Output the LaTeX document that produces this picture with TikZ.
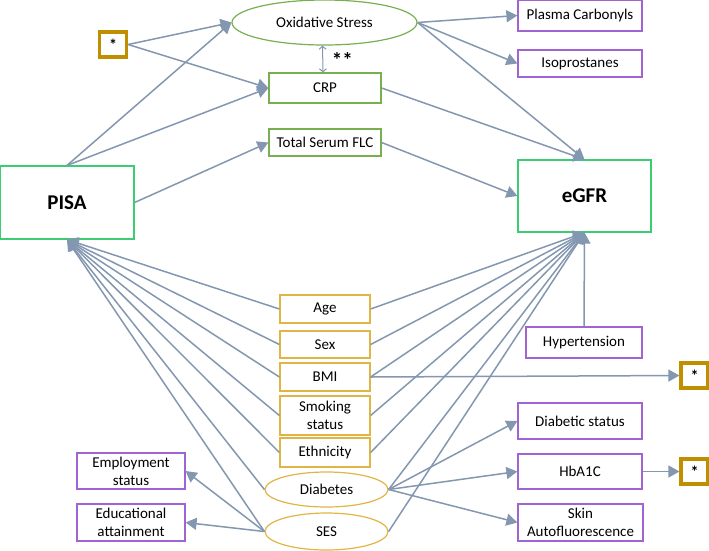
\documentclass[tikz,border=0pt]{standalone}
\usepackage{fontspec}
\setmainfont{Carlito}
\usepackage{tikz}
\usetikzlibrary{arrows.meta,shapes.geometric}
\definecolor{outc}{RGB}{60,205,115}
\definecolor{latc}{RGB}{120,175,80}
\definecolor{obsc}{RGB}{160,100,210}
\definecolor{covc}{RGB}{225,180,70}
\definecolor{starc}{RGB}{191,143,0}
\definecolor{linkc}{RGB}{132,151,176}

\begin{document}
\begin{tikzpicture}[x=1pt, y=-1pt, font=\fontsize{15}{18}\selectfont, line width=1.2pt,
    main/.style = {draw=outc, rectangle, inner sep=0pt, minimum width=134pt, minimum height=73pt, font=\fontsize{21}{24}\selectfont\bfseries},
    lat/.style = {draw=latc, rectangle, inner sep=0pt, minimum width=112pt},
    latell/.style = {draw=latc, ellipse, inner sep=0pt, minimum width=185pt, minimum height=45pt},
    obs/.style = {draw=obsc, rectangle, inner sep=0pt, align=center, minimum width=124pt},
    cov/.style = {draw=covc, rectangle, inner sep=0pt, align=center, minimum width=90pt},
    covell/.style = {draw=covc, ellipse, inner sep=0pt, minimum width=123pt},
    starbox/.style = {draw=starc, line width=3.2pt, rectangle, inner sep=0pt, minimum width=27pt, minimum height=25pt, font=\fontsize{16}{18}\selectfont\bfseries},
    link/.style = {draw=linkc, line width=1.5pt, -{Triangle[length=11pt,width=12pt]}}]
                \useasboundingbox (0,0) rectangle (709,550);
                \node[main] (pisa) at (67,202.5) {PISA};
                \node[main, minimum width=133pt, minimum height=72pt] (egfr) at (584.5,196) {eGFR};
                \node[latell] (ox) at (324.5,22.5) {Oxidative Stress};
                \node[lat, minimum height=30pt] (crp) at (325,88) {CRP};
                \node[lat, minimum height=27pt] (flc) at (325,142.5) {Total Serum FLC};
                \node[starbox] (s0) at (113,44.5) {*};
                \node[obs, minimum height=31pt] (pc) at (580,15.5) {Plasma Carbonyls};
                \node[obs, minimum height=27pt] (iso) at (580,63.5) {Isoprostanes};
                \node[cov, minimum height=28pt] (age) at (325,309) {Age};
                \node[cov, minimum height=27pt] (sex) at (325,344.5) {Sex};
                \node[cov, minimum height=28pt] (bmi) at (325,377) {BMI};
                \node[cov, minimum height=39pt] (smk) at (325,415.5) {Smoking\\status};
                \node[cov, minimum height=29pt] (eth) at (325,452.5) {Ethnicity};
                \node[covell, minimum height=35pt] (dia) at (326.5,489.5) {Diabetes};
                \node[covell, minimum height=37pt] (ses) at (326.5,531.5) {SES};
                \node[obs, minimum width=108pt, minimum height=36pt] (emp) at (131,471) {Employment\\status};
                \node[obs, minimum width=108pt, minimum height=37pt] (edu) at (131,522.5) {Educational\\attainment};
                \node[obs, minimum width=116pt, minimum height=31pt] (hyp) at (584,342.5) {Hypertension};
                \node[obs, minimum height=36pt] (dst) at (580,421) {Diabetic status};
                \node[obs, minimum height=35pt] (hba) at (580,471.5) {HbA1C};
                \node[obs, minimum width=125pt, minimum height=37pt] (skin) at (580.5,522.5) {Skin\\Autofluorescence};
                \node[starbox] (s1) at (694.5,375.5) {*};
                \node[starbox] (s2) at (694.5,471.5) {*};
                \node[anchor=west, font=\fontsize{21}{22}\selectfont\bfseries] (sig) at (328,60) {**};
                \draw[link] (pisa.north) -- (ox.west);
                \draw[link] (pisa.north) -- (crp.west);
                \draw[link] (s0.east) -- (ox.west);
                \draw[link] (s0.east) -- (crp.west);
                \draw[link] (pisa.east) -- (flc.west);
                \draw[draw=linkc, line width=1pt, {Straight Barb[length=3pt,width=7pt]}-{Straight Barb[length=3pt,width=7pt]}] ([xshift=-2pt]ox.south) -- ([xshift=-2pt]crp.north);
                \draw[link] (ox.east) -- (pc.west);
                \draw[link] (ox.east) -- (iso.west);
                \draw[link] (ox.east) -- (egfr.north);
                \draw[link] (crp.east) -- (egfr.north);
                \draw[link] (flc.east) -- (egfr.west);
                \draw[link] (age.west) -- (pisa.south);
                \draw[link] (sex.west) -- (pisa.south);
                \draw[link] (bmi.west) -- (pisa.south);
                \draw[link] (smk.west) -- (pisa.south);
                \draw[link] (eth.west) -- (pisa.south);
                \draw[link] (dia.west) -- (pisa.south);
                \draw[link] (ses.west) -- (pisa.south);
                \draw[link] (age.east) -- (egfr.south);
                \draw[link] (sex.east) -- (egfr.south);
                \draw[link] (bmi.east) -- (egfr.south);
                \draw[link] (smk.east) -- (egfr.south);
                \draw[link] (eth.east) -- (egfr.south);
                \draw[link] (dia.east) -- (egfr.south);
                \draw[link] (ses.east) -- (egfr.south);
                \draw[link] (hyp.north) -- (egfr.south);
                \draw[link] (bmi.east) -- (s1.west);
                \draw[link] (ses.west) -- (emp.east);
                \draw[link] (ses.west) -- (edu.east);
                \draw[link] (dia.east) -- (dst.west);
                \draw[link] (dia.east) -- (hba.west);
                \draw[link] (dia.east) -- (skin.west);
                \draw[link] (hba.east) -- (s2.west);
            \end{tikzpicture}
\end{document}
